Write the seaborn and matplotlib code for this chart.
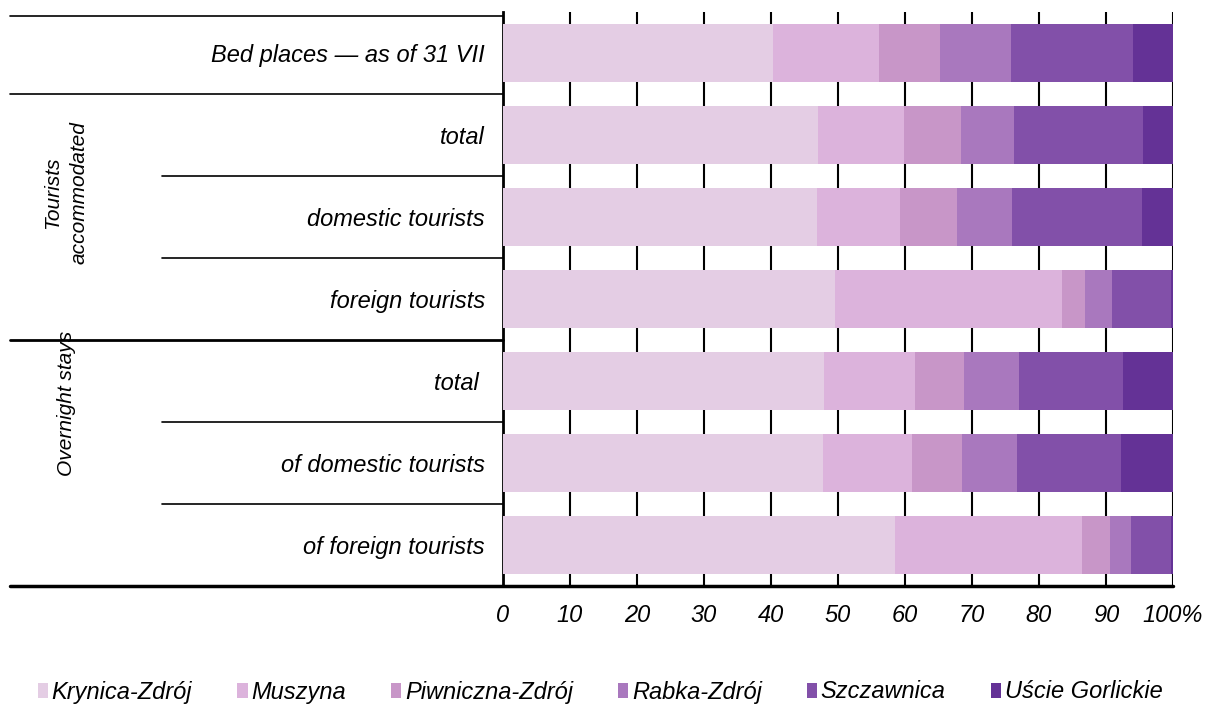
import numpy as np
import pandas as pd
import matplotlib.pyplot as plt
import seaborn as sns
from matplotlib.patches import Patch
from matplotlib.lines import Line2D
import matplotlib.transforms as mtransforms

# rows of the chart (top to bottom)
rows = [
    "Bed places — as of 31 VII",
    "total",
    "domestic tourists",
    "foreign tourists",
    "total ",
    "of domestic tourists",
    "of foreign tourists",
]

towns = ["Krynica-Zdrój", "Muszyna", "Piwniczna-Zdrój", "Rabka-Zdrój",
         "Szczawnica", "Uście Gorlickie"]

# shares in % per town, one value per row
krynica = [40.3, 47.0, 46.8, 49.6, 47.9, 47.7, 58.5]
muszyna = [15.8, 12.9, 12.5, 33.9, 13.6, 13.4, 27.9]
piwniczna = [9.1, 8.4, 8.5, 3.3, 7.3, 7.4, 4.2]
rabka = [10.6, 8.0, 8.1, 4.1, 8.2, 8.2, 3.1]
szczawnica = [18.3, 19.2, 19.4, 8.8, 15.5, 15.6, 6.0]
uscie = [5.9, 4.5, 4.7, 0.3, 7.5, 7.7, 0.3]

colors = ["#E4CDE4", "#DCB3DC", "#C896C8", "#A978BE", "#8250A9", "#643296"]

x_ticks = [0, 10, 20, 30, 40, 50, 60, 70, 80, 90, 100]
x_ticklabels = ["0", "10", "20", "30", "40", "50", "60", "70", "80", "90", "100%"]

df = pd.DataFrame(
    {"row": rows, "Krynica-Zdrój": krynica, "Muszyna": muszyna,
     "Piwniczna-Zdrój": piwniczna, "Rabka-Zdrój": rabka,
     "Szczawnica": szczawnica, "Uście Gorlickie": uscie}
)
cum = df[towns].cumsum(axis=1)

sns.set_theme(style="white")
plt.rcParams["font.family"] = ["Liberation Sans", "DejaVu Sans"]
plt.rcParams["font.style"] = "italic"
plt.rcParams["text.color"] = "black"
plt.rcParams["xtick.color"] = "black"
plt.rcParams["ytick.color"] = "black"

FS = 17

W, H = 1218, 704
fig = plt.figure(figsize=(W / 100, H / 100), dpi=100)
ax = fig.add_axes([503 / W, 1 - 586 / H, 670 / W, 574 / H])

# stacked bars: draw cumulative totals from the last town backwards
for i in range(len(towns) - 1, -1, -1):
    sns.barplot(x=cum[towns[i]], y=df["row"], color=colors[i], orient="h",
                width=0.7, linewidth=0, saturation=1, ax=ax, zorder=3)

ax.set_xlim(0, 100)
ax.set_ylim(6.5, -0.5)
ax.set_xlabel("")
ax.set_ylabel("")
ax.set_xticks(x_ticks)
ax.set_xticklabels(x_ticklabels, fontsize=FS, style="italic")
ax.set_yticks(range(len(rows)))
ax.set_yticklabels(rows, fontsize=FS, style="italic")
ax.tick_params(axis="x", length=0, pad=13)
ax.tick_params(axis="y", length=0, pad=13)
ax.set_axisbelow(True)
ax.xaxis.grid(True, color="black", linewidth=1.5)
ax.yaxis.grid(False)
for s in ["top", "right", "bottom"]:
    ax.spines[s].set_visible(False)
ax.spines["left"].set_color("black")
ax.spines["left"].set_linewidth(2)

# table lines on the left
trans = mtransforms.blended_transform_factory(ax.transAxes, ax.transData)
x_full = (10 - 503) / 670
x_part = (162 - 503) / 670
table_lines = [(-0.45, x_full, 1.2), (0.5, x_full, 1.2), (1.5, x_part, 1.2),
               (2.5, x_part, 1.2), (3.5, x_full, 2.0), (4.5, x_part, 1.2),
               (5.5, x_part, 1.2)]
for yv, xs, lw in table_lines:
    ax.add_line(Line2D([xs, 0], [yv, yv], transform=trans, color="black",
                       linewidth=lw, clip_on=False))
fig.add_artist(Line2D([10 / W, 1173 / W], [1 - 586 / H, 1 - 586 / H],
                      transform=fig.transFigure, color="black", linewidth=2.5))

fig.text(66 / W, 1 - 193 / H, "Tourists\naccommodated", rotation=90,
         ha="center", va="center", fontsize=15, style="italic",
         multialignment="center", linespacing=1.45)
fig.text(66 / W, 1 - 403 / H, "Overnight stays", rotation=90,
         ha="center", va="center", fontsize=15, style="italic")

handles = [Patch(facecolor=c, edgecolor="none") for c in colors]
fig.legend(handles, towns, loc="center", bbox_to_anchor=(600 / W, 1 - 692 / H),
           ncol=6, frameon=False, handlelength=0.45, handleheight=0.6,
           handletextpad=0.15, columnspacing=1.9,
           prop={"style": "italic", "size": FS})

fig.savefig("out.png", dpi=100)
